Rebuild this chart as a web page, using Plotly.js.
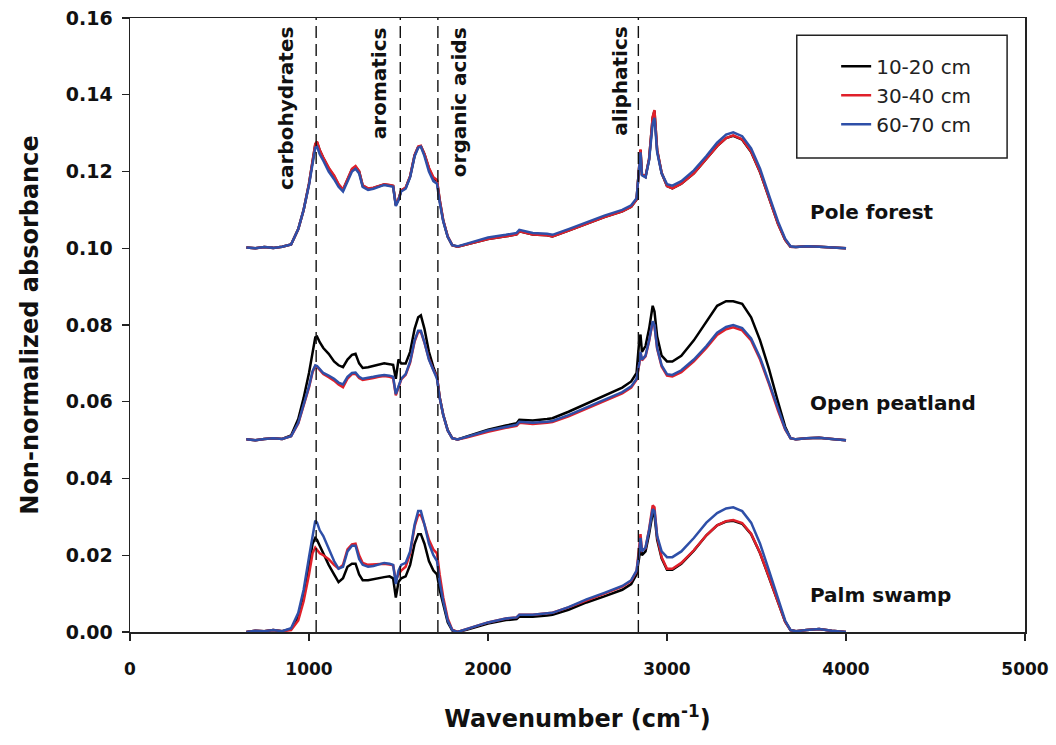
<!DOCTYPE html>
<html>
<head>
<meta charset="utf-8">
<script src="https://cdn.plot.ly/plotly-3.0.1.min.js"></script>
<style>html,body{margin:0;padding:0;background:#fff;}#chart{width:1056px;height:745px;}</style>
</head>
<body>
<div id="chart"></div>
<script>
// Wavenumber grid (cm-1)
const wavenumber = [650, 700, 750, 800, 850, 900, 940, 970, 1000, 1020, 1035, 1045, 1060, 1080, 1110, 1140, 1165, 1190, 1215, 1240, 1260, 1280, 1300, 1330, 1360, 1390, 1420, 1450, 1470, 1485, 1500, 1515, 1540, 1565, 1590, 1610, 1625, 1645, 1670, 1695, 1715, 1730, 1750, 1775, 1800, 1830, 1880, 1950, 2000, 2100, 2160, 2175, 2250, 2330, 2360, 2450, 2550, 2650, 2750, 2800, 2830, 2845, 2852, 2860, 2880, 2900, 2920, 2930, 2945, 2970, 3000, 3030, 3080, 3150, 3220, 3280, 3330, 3370, 3420, 3470, 3520, 3570, 3620, 3660, 3690, 3720, 3780, 3850, 3920, 4000];

const depthLabels = ["10-20 cm", "30-40 cm", "60-70 cm"];
const siteLabels = ["Pole forest", "Open peatland", "Palm swamp"];
const bandLabels = ["carbohydrates", "aromatics", "organic acids", "aliphatics"];
const bandPositions = [1040, 1510, 1720, 2840];

// Pole forest
const poleForest_10_20 = [0.1002, 0.1000, 0.1003, 0.1001, 0.1004, 0.1010, 0.1050, 0.1100, 0.1168, 0.1230, 0.1270, 0.1276, 0.1255, 0.1235, 0.1208, 0.1188, 0.1165, 0.1152, 0.1180, 0.1205, 0.1212, 0.1200, 0.1163, 0.1155, 0.1157, 0.1162, 0.1166, 0.1164, 0.1162, 0.1112, 0.1127, 0.1150, 0.1157, 0.1187, 0.1242, 0.1264, 0.1266, 0.1245, 0.1208, 0.1182, 0.1176, 0.1125, 0.1072, 0.1030, 0.1008, 0.1004, 0.1010, 0.1017, 0.1024, 0.1031, 0.1036, 0.1044, 0.1036, 0.1034, 0.1031, 0.1046, 0.1064, 0.1081, 0.1096, 0.1108, 0.1127, 0.1205, 0.1256, 0.1192, 0.1186, 0.1232, 0.1340, 0.1358, 0.1255, 0.1196, 0.1162, 0.1156, 0.1168, 0.1195, 0.1232, 0.1266, 0.1287, 0.1293, 0.1283, 0.1251, 0.1198, 0.1130, 0.1064, 0.1022, 0.1004, 0.1003, 0.1005, 0.1004, 0.1003, 0.1000];
const poleForest_30_40 = [0.1002, 0.1000, 0.1003, 0.1001, 0.1004, 0.1010, 0.1050, 0.1100, 0.1168, 0.1230, 0.1272, 0.1278, 0.1256, 0.1236, 0.1210, 0.1190, 0.1167, 0.1153, 0.1182, 0.1207, 0.1214, 0.1201, 0.1164, 0.1156, 0.1158, 0.1163, 0.1167, 0.1165, 0.1163, 0.1113, 0.1128, 0.1151, 0.1158, 0.1188, 0.1243, 0.1265, 0.1267, 0.1246, 0.1210, 0.1185, 0.1178, 0.1127, 0.1073, 0.1031, 0.1008, 0.1004, 0.1010, 0.1017, 0.1024, 0.1031, 0.1036, 0.1044, 0.1036, 0.1034, 0.1031, 0.1046, 0.1064, 0.1081, 0.1096, 0.1108, 0.1127, 0.1207, 0.1258, 0.1193, 0.1187, 0.1233, 0.1342, 0.1360, 0.1256, 0.1197, 0.1162, 0.1156, 0.1168, 0.1195, 0.1232, 0.1266, 0.1287, 0.1294, 0.1284, 0.1252, 0.1199, 0.1131, 0.1064, 0.1022, 0.1004, 0.1003, 0.1005, 0.1004, 0.1003, 0.1000];
const poleForest_60_70 = [0.1002, 0.1000, 0.1003, 0.1001, 0.1004, 0.1010, 0.1050, 0.1100, 0.1165, 0.1225, 0.1262, 0.1265, 0.1245, 0.1228, 0.1200, 0.1180, 0.1160, 0.1148, 0.1175, 0.1200, 0.1207, 0.1195, 0.1160, 0.1152, 0.1155, 0.1160, 0.1165, 0.1162, 0.1160, 0.1110, 0.1125, 0.1148, 0.1155, 0.1185, 0.1240, 0.1262, 0.1265, 0.1240, 0.1200, 0.1175, 0.1168, 0.1120, 0.1070, 0.1030, 0.1008, 0.1005, 0.1012, 0.1020, 0.1028, 0.1035, 0.1040, 0.1048, 0.1040, 0.1038, 0.1035, 0.1050, 0.1068, 0.1085, 0.1100, 0.1112, 0.1130, 0.1200, 0.1250, 0.1190, 0.1185, 0.1230, 0.1325, 0.1340, 0.1250, 0.1195, 0.1167, 0.1163, 0.1175, 0.1203, 0.1240, 0.1275, 0.1296, 0.1302, 0.1292, 0.1260, 0.1207, 0.1138, 0.1070, 0.1025, 0.1005, 0.1003, 0.1005, 0.1004, 0.1003, 0.1000];

// Open peatland
const openPeatland_10_20 = [0.0502, 0.0500, 0.0503, 0.0505, 0.0503, 0.0512, 0.0555, 0.0610, 0.0675, 0.0735, 0.0768, 0.0770, 0.0755, 0.0740, 0.0725, 0.0705, 0.0695, 0.0690, 0.0710, 0.0722, 0.0725, 0.0700, 0.0688, 0.0690, 0.0693, 0.0697, 0.0700, 0.0698, 0.0696, 0.0660, 0.0710, 0.0700, 0.0700, 0.0730, 0.0790, 0.0820, 0.0825, 0.0790, 0.0730, 0.0690, 0.0665, 0.0612, 0.0566, 0.0526, 0.0505, 0.0502, 0.0509, 0.0520, 0.0527, 0.0538, 0.0544, 0.0553, 0.0551, 0.0555, 0.0557, 0.0574, 0.0595, 0.0616, 0.0637, 0.0653, 0.0675, 0.0760, 0.0775, 0.0730, 0.0745, 0.0790, 0.0850, 0.0835, 0.0770, 0.0720, 0.0705, 0.0705, 0.0720, 0.0760, 0.0810, 0.0850, 0.0862, 0.0862, 0.0855, 0.0820, 0.0760, 0.0685, 0.0600, 0.0535, 0.0505, 0.0502, 0.0505, 0.0506, 0.0503, 0.0500];
const openPeatland_30_40 = [0.0502, 0.0500, 0.0503, 0.0505, 0.0503, 0.0510, 0.0543, 0.0588, 0.0637, 0.0677, 0.0693, 0.0691, 0.0682, 0.0672, 0.0664, 0.0655, 0.0645, 0.0638, 0.0660, 0.0672, 0.0673, 0.0662, 0.0657, 0.0659, 0.0662, 0.0665, 0.0667, 0.0665, 0.0662, 0.0617, 0.0638, 0.0658, 0.0670, 0.0702, 0.0757, 0.0782, 0.0782, 0.0754, 0.0712, 0.0683, 0.0665, 0.0612, 0.0565, 0.0525, 0.0505, 0.0502, 0.0507, 0.0516, 0.0522, 0.0532, 0.0537, 0.0545, 0.0542, 0.0545, 0.0547, 0.0562, 0.0582, 0.0602, 0.0622, 0.0637, 0.0657, 0.0698, 0.0728, 0.0708, 0.0718, 0.0758, 0.0808, 0.0798, 0.0738, 0.0692, 0.0668, 0.0666, 0.0677, 0.0705, 0.0740, 0.0774, 0.0789, 0.0794, 0.0786, 0.0760, 0.0710, 0.0646, 0.0577, 0.0528, 0.0505, 0.0502, 0.0505, 0.0506, 0.0503, 0.0500];
const openPeatland_60_70 = [0.0502, 0.0500, 0.0503, 0.0505, 0.0503, 0.0510, 0.0545, 0.0590, 0.0640, 0.0680, 0.0695, 0.0693, 0.0685, 0.0675, 0.0668, 0.0660, 0.0650, 0.0645, 0.0665, 0.0675, 0.0676, 0.0665, 0.0660, 0.0662, 0.0665, 0.0668, 0.0670, 0.0668, 0.0665, 0.0620, 0.0640, 0.0660, 0.0672, 0.0705, 0.0760, 0.0785, 0.0785, 0.0755, 0.0710, 0.0680, 0.0660, 0.0610, 0.0565, 0.0525, 0.0505, 0.0502, 0.0508, 0.0518, 0.0525, 0.0535, 0.0540, 0.0548, 0.0545, 0.0548, 0.0550, 0.0565, 0.0585, 0.0605, 0.0625, 0.0640, 0.0660, 0.0700, 0.0730, 0.0710, 0.0720, 0.0760, 0.0810, 0.0800, 0.0740, 0.0695, 0.0672, 0.0670, 0.0682, 0.0710, 0.0745, 0.0780, 0.0795, 0.0800, 0.0792, 0.0765, 0.0715, 0.0650, 0.0580, 0.0530, 0.0505, 0.0502, 0.0505, 0.0506, 0.0503, 0.0500];

// Palm swamp
const palmSwamp_10_20 = [0.0000, 0.0003, 0.0002, 0.0005, 0.0002, 0.0008, 0.0040, 0.0095, 0.0175, 0.0230, 0.0245, 0.0240, 0.0225, 0.0205, 0.0175, 0.0150, 0.0130, 0.0140, 0.0170, 0.0178, 0.0178, 0.0150, 0.0135, 0.0135, 0.0138, 0.0140, 0.0143, 0.0145, 0.0140, 0.0090, 0.0130, 0.0140, 0.0145, 0.0175, 0.0230, 0.0255, 0.0255, 0.0230, 0.0185, 0.0160, 0.0150, 0.0110, 0.0070, 0.0025, 0.0004, 0.0000, 0.0006, 0.0015, 0.0022, 0.0031, 0.0034, 0.0040, 0.0040, 0.0043, 0.0045, 0.0058, 0.0077, 0.0093, 0.0110, 0.0125, 0.0150, 0.0195, 0.0235, 0.0200, 0.0210, 0.0255, 0.0310, 0.0305, 0.0240, 0.0192, 0.0162, 0.0162, 0.0178, 0.0212, 0.0252, 0.0278, 0.0288, 0.0290, 0.0282, 0.0255, 0.0205, 0.0142, 0.0075, 0.0027, 0.0005, 0.0002, 0.0005, 0.0008, 0.0003, 0.0000];
const palmSwamp_30_40 = [0.0000, 0.0003, 0.0002, 0.0005, 0.0002, 0.0005, 0.0030, 0.0080, 0.0150, 0.0205, 0.0220, 0.0215, 0.0205, 0.0200, 0.0190, 0.0175, 0.0165, 0.0175, 0.0215, 0.0228, 0.0230, 0.0200, 0.0180, 0.0175, 0.0176, 0.0177, 0.0178, 0.0176, 0.0174, 0.0135, 0.0150, 0.0160, 0.0170, 0.0205, 0.0275, 0.0305, 0.0305, 0.0280, 0.0240, 0.0215, 0.0205, 0.0150, 0.0090, 0.0035, 0.0006, 0.0000, 0.0008, 0.0018, 0.0025, 0.0035, 0.0038, 0.0045, 0.0045, 0.0048, 0.0050, 0.0064, 0.0083, 0.0100, 0.0118, 0.0133, 0.0158, 0.0215, 0.0255, 0.0212, 0.0218, 0.0268, 0.0330, 0.0325, 0.0248, 0.0195, 0.0165, 0.0165, 0.0180, 0.0213, 0.0252, 0.0278, 0.0289, 0.0292, 0.0284, 0.0256, 0.0206, 0.0143, 0.0076, 0.0027, 0.0005, 0.0002, 0.0005, 0.0008, 0.0003, 0.0000];
const palmSwamp_60_70 = [0.0000, 0.0003, 0.0002, 0.0005, 0.0002, 0.0010, 0.0050, 0.0110, 0.0195, 0.0255, 0.0290, 0.0285, 0.0265, 0.0250, 0.0215, 0.0185, 0.0165, 0.0170, 0.0210, 0.0225, 0.0225, 0.0190, 0.0175, 0.0170, 0.0172, 0.0175, 0.0180, 0.0178, 0.0175, 0.0125, 0.0160, 0.0175, 0.0180, 0.0210, 0.0280, 0.0315, 0.0315, 0.0280, 0.0230, 0.0200, 0.0185, 0.0130, 0.0080, 0.0030, 0.0005, 0.0000, 0.0008, 0.0018, 0.0025, 0.0035, 0.0038, 0.0045, 0.0045, 0.0048, 0.0050, 0.0065, 0.0085, 0.0102, 0.0120, 0.0135, 0.0160, 0.0210, 0.0245, 0.0210, 0.0220, 0.0265, 0.0320, 0.0315, 0.0250, 0.0210, 0.0195, 0.0195, 0.0210, 0.0245, 0.0285, 0.0310, 0.0322, 0.0325, 0.0315, 0.0285, 0.0230, 0.0160, 0.0085, 0.0030, 0.0005, 0.0002, 0.0005, 0.0008, 0.0003, 0.0000];

const colors = ["#000000", "#e0202a", "#2e4fa8"];
const groups = [
  [poleForest_10_20, poleForest_30_40, poleForest_60_70],
  [openPeatland_10_20, openPeatland_30_40, openPeatland_60_70],
  [palmSwamp_10_20, palmSwamp_30_40, palmSwamp_60_70]
];
const siteLabelY = [0.1094, 0.0597, 0.0096];

const traces = [];
groups.forEach((grp, gi) => {
  grp.forEach((vals, di) => {
    traces.push({
      type: "scatter", mode: "lines",
      x: wavenumber, y: vals,
      name: depthLabels[di],
      legendgroup: depthLabels[di],
      showlegend: gi === 0,
      line: {color: colors[di], width: 2.5}
    });
  });
});

const FONT = "DejaVu Sans, Verdana, sans-serif";
const shapes = bandPositions.map(p => ({
  type: "line", xref: "x", yref: "paper", x0: p, x1: p, y0: 0, y1: 1,
  line: {color: "#111", width: 1.4, dash: "12px,6px"}
}));
// legend frame
shapes.push({type: "rect", xref: "paper", yref: "paper", x0: 0.745, x1: 0.98, y0: 0.772, y1: 0.972,
  line: {color: "#222", width: 1.5}, fillcolor: "rgba(0,0,0,0)", layer: "above"});

const annotations = [];
const bandLabelX = [875, 1388, 1835, 2740];
bandLabels.forEach((t, i) => {
  annotations.push({
    text: t, x: bandLabelX[i], xref: "x", y: 0.989, yref: "paper",
    xanchor: "center", yanchor: "top", textangle: -90, showarrow: false,
    font: {family: FONT, size: 20, color: "#111", weight: "bold"}
  });
});
siteLabels.forEach((t, i) => {
  annotations.push({
    text: t, x: 3790, xref: "x", y: siteLabelY[i], yref: "y",
    xanchor: "left", yanchor: "middle", showarrow: false,
    font: {family: FONT, size: 20, color: "#111", weight: "bold"}
  });
});

const layout = {
  width: 1056, height: 745,
  margin: {l: 130, r: 31, t: 18, b: 113},
  paper_bgcolor: "#fff", plot_bgcolor: "#fff",
  font: {family: FONT, color: "#111"},
  showlegend: true,
  legend: {
    x: 0.789, y: 0.953, xanchor: "left", yanchor: "top",
    bgcolor: "rgba(0,0,0,0)", borderwidth: 0,
    font: {family: FONT, size: 20, color: "#222"},
    tracegroupgap: 0
  },
  xaxis: {
    range: [0, 5000], dtick: 1000, tick0: 0,
    showgrid: false, zeroline: false,
    showline: true, linecolor: "#222", linewidth: 1.5, mirror: true,
    ticks: "outside", ticklen: 7, tickcolor: "#222", tickwidth: 1.3,
    ticklabelstandoff: 14,
    tickfont: {family: FONT, size: 17, color: "#111", weight: "bold"},
    title: {text: "Wavenumber (cm<sup>-1</sup>)", standoff: 32,
      font: {family: FONT, size: 24, color: "#111", weight: "bold"}}
  },
  yaxis: {
    range: [0, 0.16], dtick: 0.02, tick0: 0, tickformat: ".2f",
    showgrid: false, zeroline: false,
    showline: true, linecolor: "#222", linewidth: 1.5, mirror: true,
    ticks: "outside", ticklen: 7, tickcolor: "#222", tickwidth: 1.3,
    ticklabelstandoff: 5,
    tickfont: {family: FONT, size: 19, color: "#111", weight: "bold"},
    title: {text: "Non-normalized absorbance", standoff: 20,
      font: {family: FONT, size: 24, color: "#111", weight: "bold"}}
  },
  shapes: shapes,
  annotations: annotations
};

Plotly.newPlot("chart", traces, layout, {staticPlot: true, displayModeBar: false});
</script>
</body>
</html>
